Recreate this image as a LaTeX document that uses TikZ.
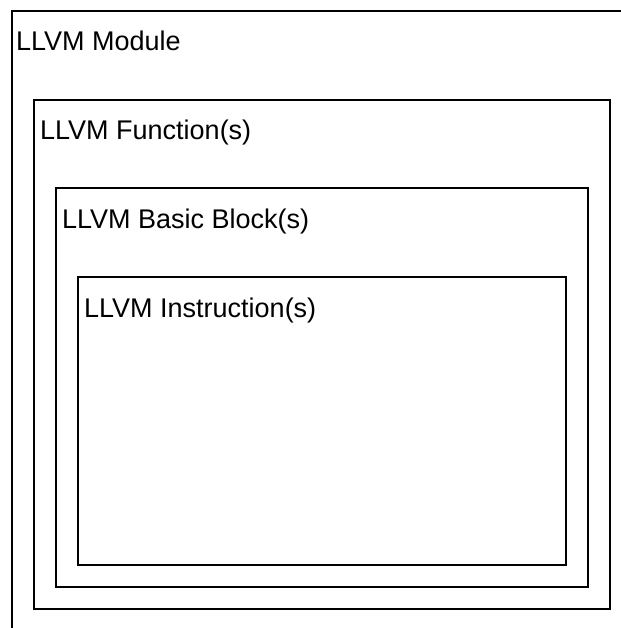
\documentclass[tikz,border=0pt]{standalone}
\usepackage{fontspec}
\setmainfont{Liberation Sans}
\begin{document}
\begin{tikzpicture}[x=1pt,y=-1pt,
  frame/.style={draw=black, line width=1.8pt, inner sep=0pt, anchor=north west},
  caption/.style={anchor=base west, inner sep=0pt, font=\fontsize{27}{31}\selectfont}]
\useasboundingbox (0,0) rectangle (620,628);
\fill[white] (0,0) rectangle (620,628);
% nested containers
\node[frame, minimum width=640pt, minimum height=660pt] (module) at (11,10) {};
\node[frame, minimum width=576pt, minimum height=509pt] (function) at (33,99) {};
\node[frame, minimum width=532pt, minimum height=399pt] (block) at (55,187) {};
\node[frame, minimum width=488pt, minimum height=288pt] (instr) at (77,276) {};
% titles
\node[caption] (tmodule) at (16,51) {LLVM Module};
\node[caption] (tfunction) at (40,140) {LLVM Function(s)};
\node[caption] (tblock) at (62,228) {LLVM Basic Block(s)};
\node[caption] (tinstr) at (84,317) {LLVM Instruction(s)};
\end{tikzpicture}
\end{document}
